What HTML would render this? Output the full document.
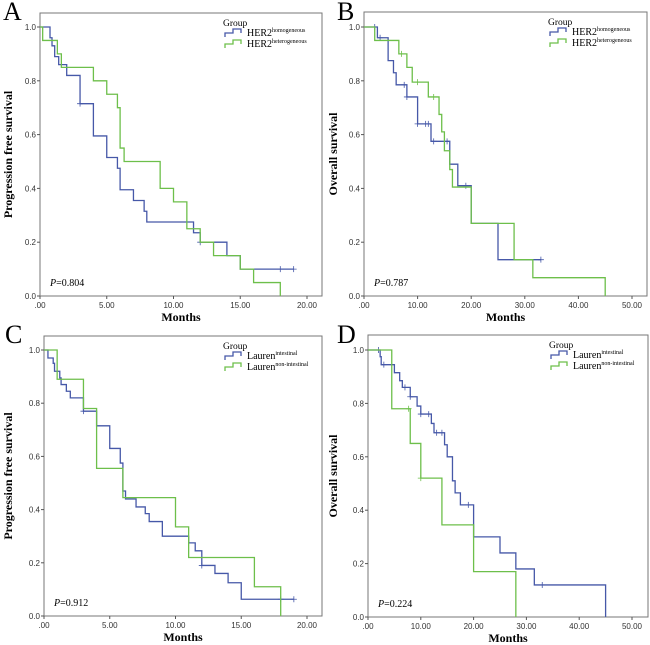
<!DOCTYPE html>
<html><head><meta charset="utf-8">
<style>
html,body{margin:0;padding:0;background:#fff;}
svg{display:block;}
text{font-family:"Liberation Serif",serif;}
.tick{font-family:"Liberation Sans",sans-serif;font-size:8px;fill:#333;}
</style></head>
<body>
<svg id="fig" width="650" height="645" viewBox="0 0 650 645"></svg>
<script>
// Panel A (PFS, HER2)
const aBlueT=[0,0.75,0.9,1.1,1.4,2,3,4,5,5.8,6,7,7.8,8,11.5,12,14,15,19];
const aBlueS=[1,0.96,0.93,0.89,0.86,0.82,0.715,0.595,0.515,0.475,0.395,0.355,0.315,0.275,0.235,0.2,0.15,0.10,0.10];
const aBlueC=[3,12,18,19];
const aGreenT=[0,0.2,1.3,1.6,4,5,5.8,6,6.3,9,10,11,12,13,15,16,18];
const aGreenS=[1,0.95,0.90,0.85,0.80,0.75,0.70,0.55,0.50,0.40,0.35,0.25,0.20,0.15,0.10,0.05,0];
const aGreenC=[];
// Panel B (OS, HER2)
const bBlueT=[0,2.5,4.5,5.5,6,8,10,12.5,16,17.5,20,25,33];
const bBlueS=[1,0.96,0.875,0.83,0.785,0.74,0.64,0.575,0.49,0.41,0.27,0.135,0.135];
const bBlueC=[2,3,7.5,8,10,11.5,12,13,15.5,19,33];
const bGreenT=[0,2,6.5,8,9,12,14,14.5,15,16,16.5,20,28,31.5,45];
const bGreenS=[1,0.95,0.90,0.85,0.795,0.74,0.675,0.61,0.54,0.47,0.405,0.27,0.135,0.068,0];
const bGreenC=[7,10,13];
// Panel C (PFS, Lauren)
const cBlueT=[0,0.3,0.7,0.8,1.2,1.3,1.7,2,3,4,5,5.8,6,6.2,7,7.7,8,9,11,11.5,12,13,14,15,19];
const cBlueS=[1,0.97,0.95,0.92,0.895,0.87,0.845,0.82,0.77,0.715,0.63,0.575,0.47,0.44,0.41,0.385,0.355,0.30,0.275,0.245,0.19,0.16,0.125,0.063,0.063];
const cBlueC=[3,12,18,19];
const cGreenT=[0,1,3,4,6,10,11,16,18];
const cGreenS=[1,0.89,0.78,0.555,0.445,0.335,0.22,0.11,0];
const cGreenC=[];
// Panel D (OS, Lauren)
const dBlueT=[0,2.3,2.5,5,6,6.5,8,9.3,10,12,12.5,14.5,15,16,16.5,17.5,20,25,28,31.5,45];
const dBlueS=[1,0.975,0.945,0.915,0.885,0.86,0.825,0.79,0.76,0.725,0.69,0.645,0.60,0.51,0.465,0.42,0.30,0.24,0.18,0.12,0];
const dBlueC=[2,3,7,8,10,11.5,13,14,19,33];
const dGreenT=[0,4.5,8,10,14,20,28];
const dGreenS=[1,0.78,0.65,0.52,0.345,0.17,0];
const dGreenC=[7.7,10];
const yTicks=[0,0.2,0.4,0.6,0.8,1.0];
const xTicks20=[0,5,10,15,20];
const xTicks50=[0,10,20,30,40,50];
const xTickLabels20=[".00","5.00","10.00","15.00","20.00"];
const xTickLabels50=[".00","10.00","20.00","30.00","40.00","50.00"];

const NS="http://www.w3.org/2000/svg";
const svg=document.getElementById('fig');
function mk(tag,attrs,parent){const e=document.createElementNS(NS,tag);for(const k in attrs)e.setAttribute(k,attrs[k]);(parent||svg).appendChild(e);return e;}

function panel(p){
  const g=mk('g',{});
  
  
  const sx=v=>p.x0+(v/p.xmax)*(p.x1-p.x0);
  const sy=v=>p.y0-v*(p.y0-p.y1);
  const fr=mk('rect',{x:p.x0,y:p.top,width:p.right-p.x0,height:p.y0-p.top,fill:'none',stroke:'#777','stroke-width':1},g);
  
  
  const L=mk('text',{x:p.lx,y:p.ly,'font-size':26},g);L.textContent=p.id;
  
  
  yTicks.forEach(v=>{
    mk('line',{x1:p.x0-3,x2:p.x0,y1:sy(v),y2:sy(v),stroke:'#555'},g);
    const t=mk('text',{x:p.x0-4,y:sy(v)+3,'text-anchor':'end',class:'tick'},g);t.textContent=v.toFixed(1);
    
    
  });
  p.xt.forEach((v,i)=>{
    mk('line',{x1:sx(v),x2:sx(v),y1:p.y0,y2:p.y0+3,stroke:'#555'},g);
    const t=mk('text',{x:sx(v),y:p.y0+12,'text-anchor':'middle',class:'tick'},g);t.textContent=p.xl[i];
    
    
  });
  const xt=mk('text',{x:(p.x0+p.right)/2,y:p.y0+25,'text-anchor':'middle','font-size':12,'font-weight':'bold'},g);xt.textContent='Months';
  
  
  const yc=(p.top+p.y0)/2;
  const yt=mk('text',{x:p.ytx,y:yc,'text-anchor':'middle','font-size':12,'font-weight':'bold',transform:`rotate(-90 ${p.ytx} ${yc})`},g);yt.textContent=p.ytitle;
  
  
  const pv=mk('text',{x:p.x0+10,y:p.y0-10,'font-size':10},g);
  pv.innerHTML='<tspan font-style="italic">P</tspan>='+p.pval;
  
  
  function series(T,S,C,col,name){
    let d=`M${sx(T[0])},${sy(S[0])}`;
    for(let i=1;i<T.length;i++){d+=` H${sx(T[i])} V${sy(S[i])}`;}
    const pth=mk('path',{d:d,fill:'none',stroke:col,'stroke-width':1.3},g);
    
    
    C.forEach(c=>{
      let s=S[0];for(let i=0;i<T.length;i++){if(T[i]<=c)s=S[i];}
      const m=mk('path',{d:`M${sx(c)-3},${sy(s)} h6 M${sx(c)},${sy(s)-3} v6`,stroke:col,'stroke-width':0.8},g);
      
      
    });
  }
  series(p.bT,p.bS,p.bC,'#4658a8','blue-'+p.n1);
  series(p.gT,p.gS,p.gC,'#6dbf4a','green-'+p.n2);
  // legend
  const lg=mk('g',{},g);
  
  
  const lx=p.right-97, ly=p.top+13;
  const gt=mk('text',{x:lx-2,y:ly,'font-size':9.5},lg);gt.textContent='Group';
  [[p.n1,p.s1,'#4658a8'],[p.n2,p.s2,'#6dbf4a']].forEach((e,i)=>{
    const yy=ly+8+i*11;
    mk('path',{d:`M${lx},${yy+3} v-4 h8 v-4 h8 v4`,fill:'none',stroke:e[2],'stroke-width':1.3},lg);
    const t=mk('text',{x:lx+22,y:yy+2,'font-size':10},lg);
    t.innerHTML=e[0]+'<tspan font-size="6" dy="-4">'+e[1]+'</tspan>';
    
    
  });
}

panel({id:'A',x0:40,x1:307,xmax:20,right:322,top:13,y0:296,y1:27,lx:3,ly:20,ytx:12,xt:xTicks20,xl:xTickLabels20,ytitle:'Progression free survival',pval:'0.804',
  bT:aBlueT,bS:aBlueS,bC:aBlueC,gT:aGreenT,gS:aGreenS,gC:aGreenC,n1:'HER2',s1:'homogeneous',n2:'HER2',s2:'heterogeneous'});
panel({id:'B',x0:364,x1:632,xmax:50,right:647,top:12,y0:296,y1:27,lx:337,ly:20,ytx:337,xt:xTicks50,xl:xTickLabels50,ytitle:'Overall survival',pval:'0.787',
  bT:bBlueT,bS:bBlueS,bC:bBlueC,gT:bGreenT,gS:bGreenS,gC:bGreenC,n1:'HER2',s1:'homogeneous',n2:'HER2',s2:'heterogeneous'});
panel({id:'C',x0:44,x1:307,xmax:20,right:322,top:336,y0:616,y1:350,lx:5,ly:343,ytx:12,xt:xTicks20,xl:xTickLabels20,ytitle:'Progression free survival',pval:'0.912',
  bT:cBlueT,bS:cBlueS,bC:cBlueC,gT:cGreenT,gS:cGreenS,gC:cGreenC,n1:'Lauren',s1:'intestinal',n2:'Lauren',s2:'non-intestinal'});
panel({id:'D',x0:368,x1:632,xmax:50,right:648,top:335,y0:617,y1:350,lx:337,ly:343,ytx:337,xt:xTicks50,xl:xTickLabels50,ytitle:'Overall survival',pval:'0.224',
  bT:dBlueT,bS:dBlueS,bC:dBlueC,gT:dGreenT,gS:dGreenS,gC:dGreenC,n1:'Lauren',s1:'intestinal',n2:'Lauren',s2:'non-intestinal'});
</script>
</body></html>
